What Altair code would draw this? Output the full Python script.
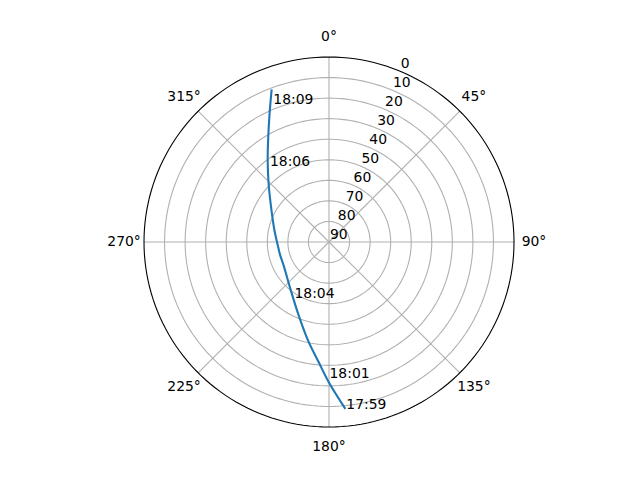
import altair as alt
import pandas as pd

# Satellite pass track: azimuth (deg, clockwise from N), elevation (deg)
track_az = [174.4, 180.2, 185.0, 191.6, 202.6, 219.9, 243.1, 255.0, 266.7, 282.4, 301.3, 314.2, 323.2, 330.0, 335.2, 339.4]
track_el = [8.4, 22.0, 31.5, 40.5, 51.5, 60.6, 65.2, 65.4, 65.0, 62.8, 57.0, 49.0, 40.2, 30.9, 21.1, 10.7]

# Time annotations
label_time = ["17:59", "18:01", "18:04", "18:06", "18:09"]
label_az = [174.4, 180.2, 212.2, 321.7, 337.7]
label_el = [8.4, 23.7, 57.6, 42.9, 17.4]

# Axes
theta_ticks = [0, 45, 90, 135, 180, 225, 270, 315]
theta_labels = ["0°", "45°", "90°", "135°", "180°", "225°", "270°", "315°"]
r_ticks = [0, 10, 20, 30, 40, 50, 60, 70, 80, 90]
ring_zd = [10, 20, 30, 40, 50, 60, 70, 80]

R = 185
FONT = "DejaVu Sans"
FS = 13.9
GRID = "#b0b0b0"

xs = alt.Scale(domain=[-90, 90], range=[0, 2 * R])
ys = alt.Scale(domain=[-90, 90], range=[2 * R, 0])

track_df = pd.DataFrame({"i": range(len(track_az)), "az": track_az, "el": track_el})
label_df = pd.DataFrame({"t": label_time, "az": label_az, "el": label_el})
theta_df = pd.DataFrame({"az": theta_ticks, "lab": theta_labels})
r_df = pd.DataFrame({"el": r_ticks, "lab": [str(v) for v in r_ticks]})
ring_df = pd.DataFrame({"zd": ring_zd})
spine_df = pd.DataFrame({"zd": [90]})


def polar(ch):
    return ch.transform_calculate(
        zd="90 - datum.el",
    ).transform_calculate(
        px="datum.zd * sin(datum.az * PI / 180)",
        py="datum.zd * cos(datum.az * PI / 180)",
    )


def circles(df, color):
    return alt.Chart(df).transform_calculate(
        ang="sequence(0, 362, 2)"
    ).transform_flatten(["ang"]).transform_calculate(
        px="datum.zd * sin(datum.ang * PI / 180)",
        py="datum.zd * cos(datum.ang * PI / 180)",
    ).mark_line(color=color, strokeWidth=1.1).encode(
        x=alt.X("px:Q", scale=xs, axis=None),
        y=alt.Y("py:Q", scale=ys, axis=None),
        detail="zd:N",
        order="ang:Q",
    )


rings = circles(ring_df, GRID)
spine = circles(spine_df, "black")

spokes = alt.Chart(theta_df).transform_calculate(
    x0="0", y0="0",
    x1="90 * sin(datum.az * PI / 180)",
    y1="90 * cos(datum.az * PI / 180)",
).mark_rule(color=GRID, strokeWidth=1.1).encode(
    x=alt.X("x0:Q", scale=xs, axis=None),
    y=alt.Y("y0:Q", scale=ys, axis=None),
    x2="x1:Q", y2="y1:Q",
)

line = polar(alt.Chart(track_df)).mark_line(
    color="#1f77b4", strokeWidth=2.1, interpolate="catmull-rom"
).encode(
    x=alt.X("px:Q", scale=xs, axis=None),
    y=alt.Y("py:Q", scale=ys, axis=None),
    order="i:Q",
)

time_text = polar(alt.Chart(label_df)).mark_text(
    align="left", baseline="alphabetic", font=FONT, fontSize=FS, color="black", dx=1
).encode(
    x=alt.X("px:Q", scale=xs, axis=None),
    y=alt.Y("py:Q", scale=ys, axis=None),
    text="t:N",
)

theta_text = alt.Chart(theta_df).transform_calculate(
    px="99.7 * sin(datum.az * PI / 180)",
    py="99.7 * cos(datum.az * PI / 180)",
).mark_text(
    align="center", baseline="middle", font=FONT, fontSize=FS, color="black"
).encode(
    x=alt.X("px:Q", scale=xs, axis=None),
    y=alt.Y("py:Q", scale=ys, axis=None),
    text="lab:N",
)

r_text = alt.Chart(r_df).transform_calculate(
    zd="90 - datum.el",
).transform_calculate(
    px="datum.zd * sin(22.5 * PI / 180)",
    py="datum.zd * cos(22.5 * PI / 180)",
).mark_text(
    align="left", baseline="bottom", font=FONT, fontSize=FS, color="black", dx=1
).encode(
    x=alt.X("px:Q", scale=xs, axis=None),
    y=alt.Y("py:Q", scale=ys, axis=None),
    text="lab:N",
)

chart = alt.layer(
    rings, spokes, spine, line, time_text, theta_text, r_text
).properties(
    width=2 * R, height=2 * R,
    background="white",
    autosize=alt.AutoSizeParams(type="none"),
    padding={"left": 136, "top": 49, "right": 100, "bottom": 30},
).configure_view(strokeWidth=0, stroke="transparent")

chart.save("out.html", embed_options={"renderer": "svg", "actions": False})
